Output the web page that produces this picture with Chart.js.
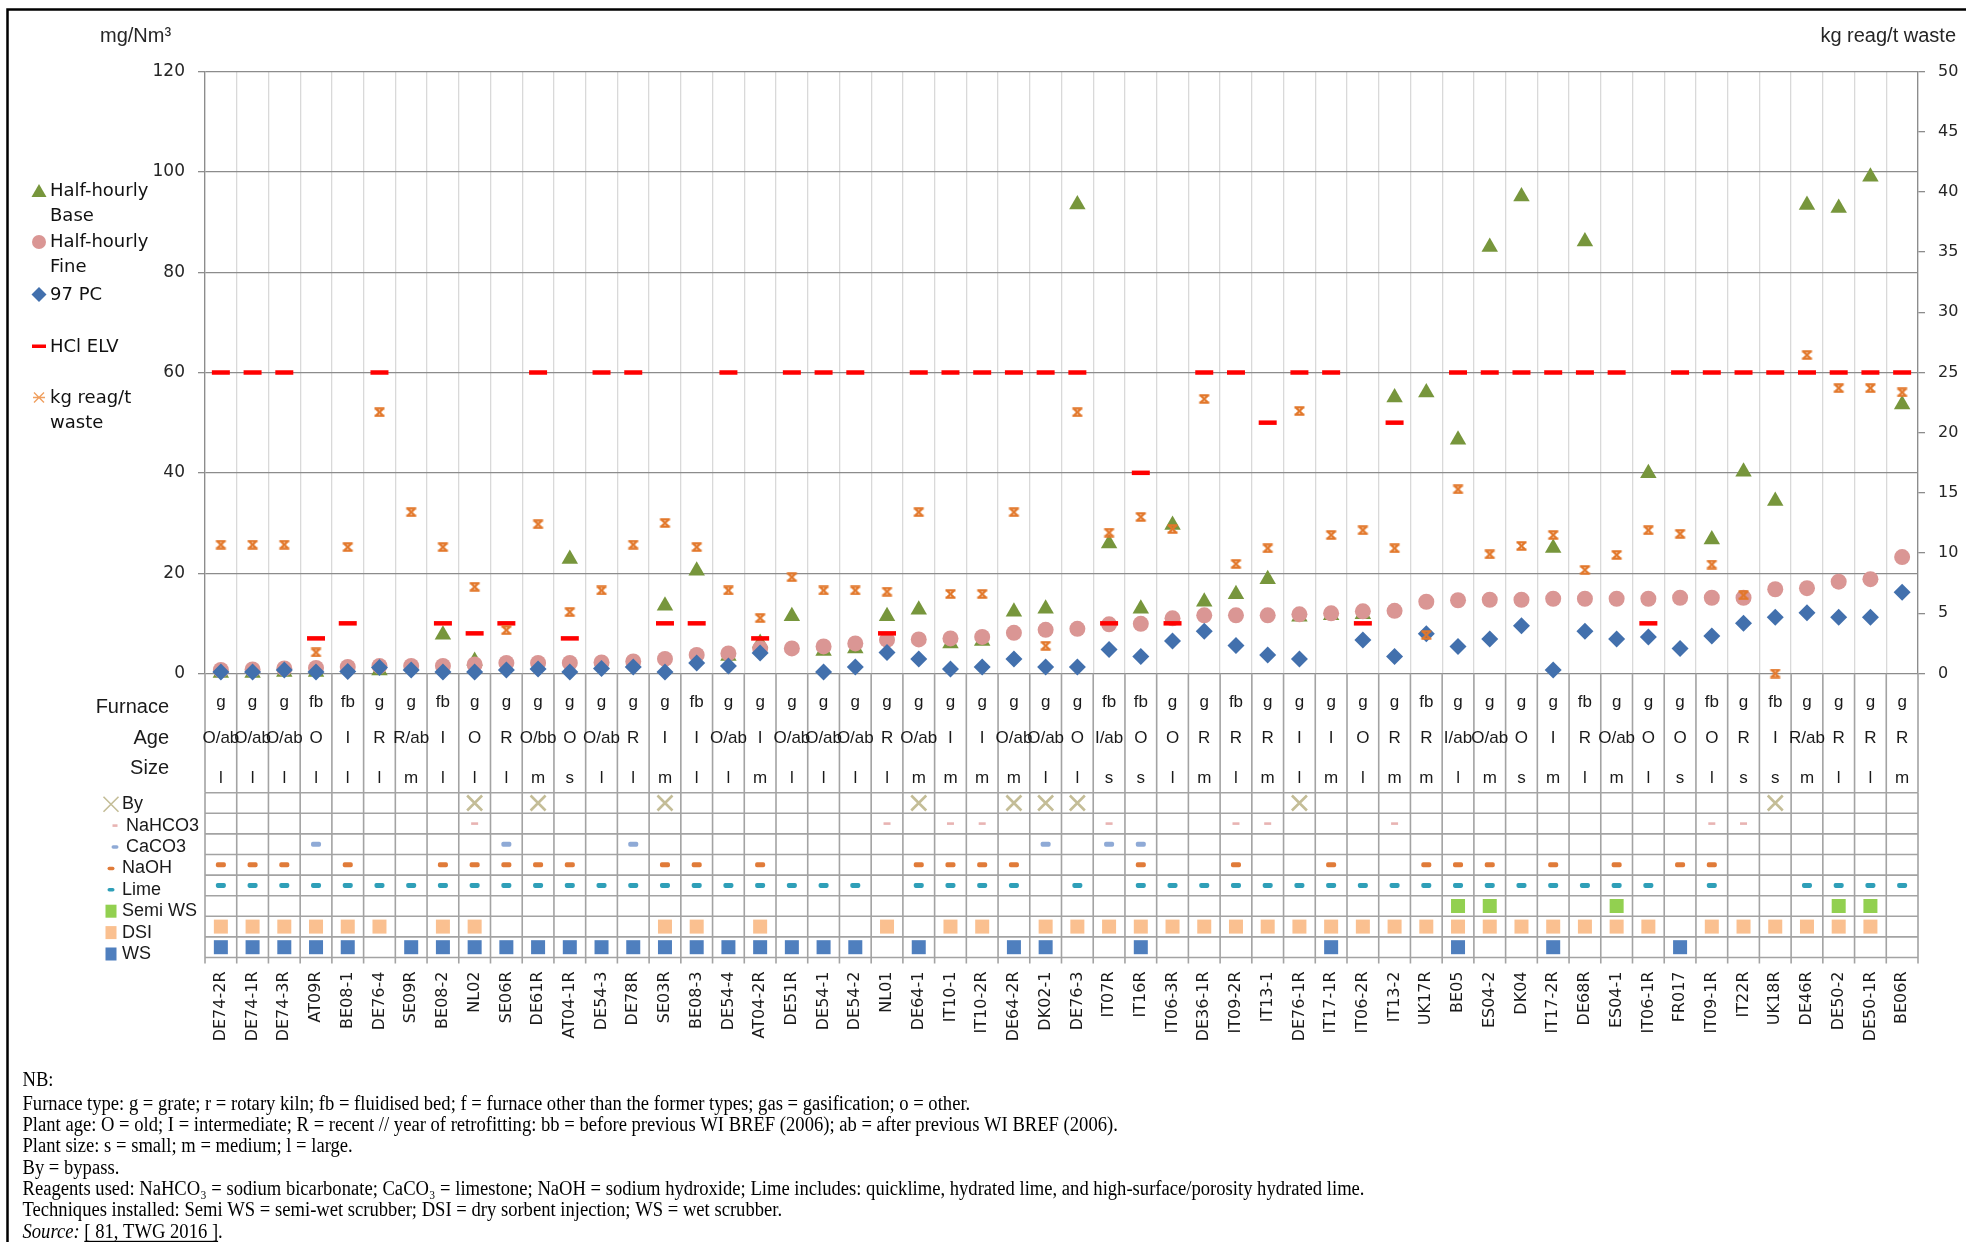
<!DOCTYPE html>
<html>
<head>
<meta charset="utf-8">
<title>HCl emissions per plant</title>
<script src="https://cdn.jsdelivr.net/npm/chart.js@4.4.1/dist/chart.umd.min.js"></script>
<style>
  html, body { margin: 0; padding: 0; background: #fff; }
  #chart { display: block; }
</style>
</head>
<body>
<canvas id="chart" width="1966" height="1242"></canvas>
<script>
// plants, in plot order
const plants = ['DE74-2R', 'DE74-1R', 'DE74-3R', 'AT09R', 'BE08-1', 'DE76-4', 'SE09R', 'BE08-2', 'NL02', 'SE06R',
  'DE61R', 'AT04-1R', 'DE54-3', 'DE78R', 'SE03R', 'BE08-3', 'DE54-4', 'AT04-2R', 'DE51R', 'DE54-1',
  'DE54-2', 'NL01', 'DE64-1', 'IT10-1', 'IT10-2R', 'DE64-2R', 'DK02-1', 'DE76-3', 'IT07R', 'IT16R',
  'IT06-3R', 'DE36-1R', 'IT09-2R', 'IT13-1', 'DE76-1R', 'IT17-1R', 'IT06-2R', 'IT13-2', 'UK17R', 'BE05',
  'ES04-2', 'DK04', 'IT17-2R', 'DE68R', 'ES04-1', 'IT06-1R', 'FR017', 'IT09-1R', 'IT22R', 'UK18R',
  'DE46R', 'DE50-2', 'DE50-1R', 'BE06R'];

// mg/Nm3
const halfHourlyBase = [0.1, 0.1, 0.3, 0.3, null, 0.6, null, 7.7, 2.5, null,
  null, 22.8, null, null, 13.5, 20.5, 3.5, 6.1, 11.4, 4.5,
  5.0, 11.4, 12.7, 6.0, 6.5, 12.3, 12.9, 93.5, 25.9, 12.9,
  29.6, 14.3, 15.8, 18.8, 11.3, 11.6, 11.8, 55.0, 56.0, 46.6,
  85.0, 95.1, 25.0, 86.1, null, 39.9, null, 26.7, 40.2, 34.4,
  93.4, 92.8, 99.0, 53.6];
const halfHourlyFine = [0.7, 0.8, 1.0, 1.1, 1.3, 1.5, 1.5, 1.5, 1.8, 2.1,
  2.1, 2.1, 2.2, 2.4, 2.9, 3.7, 4.0, 5.0, 5.0, 5.4,
  6.0, 6.7, 6.8, 7.0, 7.3, 8.1, 8.7, 8.9, 9.8, 9.9,
  11.0, 11.6, 11.6, 11.6, 11.8, 12.0, 12.4, 12.5, 14.3, 14.6,
  14.7, 14.7, 14.9, 14.9, 14.9, 14.9, 15.1, 15.1, 15.1, 16.8,
  17.0, 18.3, 18.8, 23.2];
const pc97 = [0.3, 0.3, 0.7, 0.3, 0.4, 1.2, 0.7, 0.3, 0.3, 0.7,
  0.9, 0.3, 1.0, 1.3, 0.3, 2.1, 1.5, 4.1, null, 0.3,
  1.3, 4.2, 2.9, 0.9, 1.3, 2.9, 1.3, 1.3, 4.8, 3.4,
  6.5, 8.4, 5.6, 3.7, 2.9, null, 6.7, 3.4, 7.9, 5.4,
  6.9, 9.5, 0.7, 8.4, 6.9, 7.3, 5.0, 7.5, 10.0, 11.2,
  12.1, 11.2, 11.2, 16.2];
const hclElv = [60, 60, 60, 7, 10, 60, null, 10, 8, 10,
  60, 7, 60, 60, 10, 10, 60, 7, 60, 60,
  60, 8, 60, 60, 60, 60, 60, 60, 10, 40,
  10, 60, 60, 50, 60, 60, 10, 50, null, 60,
  60, 60, 60, 60, 60, 10, 60, 60, 60, 60,
  60, 60, 60, 60];
// kg reagent / t waste (right axis)
const reagent = [10.7, 10.7, 10.7, 1.75, 10.5, 21.7, 13.4, 10.5, 7.2, 3.6,
  12.4, 5.1, 6.9, 10.7, 12.5, 10.5, 6.9, 4.6, 8.0, 6.9,
  6.9, 6.8, 13.4, 6.6, 6.6, 13.4, 2.3, 21.7, 11.7, 13.0,
  12.0, 22.8, 9.1, 10.4, 21.8, 11.5, 11.9, 10.4, 3.2, 15.3,
  9.9, 10.6, 11.5, 8.6, 9.85, 11.9, 11.6, 9.05, 6.5, 0,
  26.45, 23.7, 23.7, 23.35];

const leftTicks = { min: 0, max: 120, step: 20 };
const rightTicks = { min: 0, max: 50, step: 5 };

// plant characteristics
const furnace = ['g', 'g', 'g', 'fb', 'fb', 'g', 'g', 'fb', 'g', 'g',
  'g', 'g', 'g', 'g', 'g', 'fb', 'g', 'g', 'g', 'g',
  'g', 'g', 'g', 'g', 'g', 'g', 'g', 'g', 'fb', 'fb',
  'g', 'g', 'fb', 'g', 'g', 'g', 'g', 'g', 'fb', 'g',
  'g', 'g', 'g', 'fb', 'g', 'g', 'g', 'fb', 'g', 'fb',
  'g', 'g', 'g', 'g'];
const age = ['O/ab', 'O/ab', 'O/ab', 'O', 'I', 'R', 'R/ab', 'I', 'O', 'R',
  'O/bb', 'O', 'O/ab', 'R', 'I', 'I', 'O/ab', 'I', 'O/ab', 'O/ab',
  'O/ab', 'R', 'O/ab', 'I', 'I', 'O/ab', 'O/ab', 'O', 'I/ab', 'O',
  'O', 'R', 'R', 'R', 'I', 'I', 'O', 'R', 'R', 'I/ab',
  'O/ab', 'O', 'I', 'R', 'O/ab', 'O', 'O', 'O', 'R', 'I',
  'R/ab', 'R', 'R', 'R'];
const size = ['l', 'l', 'l', 'l', 'l', 'l', 'm', 'l', 'l', 'l',
  'm', 's', 'l', 'l', 'm', 'l', 'l', 'm', 'l', 'l',
  'l', 'l', 'm', 'm', 'm', 'm', 'l', 'l', 's', 's',
  'l', 'm', 'l', 'm', 'l', 'm', 'l', 'm', 'm', 'l',
  'm', 's', 'm', 'l', 'm', 'l', 's', 'l', 's', 's',
  'm', 'l', 'l', 'm'];

// reagents and techniques per plant
const byPass = ['NL02', 'DE61R', 'SE03R', 'DE64-1', 'DE64-2R', 'DK02-1', 'DE76-3', 'DE76-1R', 'UK18R'];
const nahco3 = ['NL02', 'NL01', 'IT10-1', 'IT10-2R', 'IT07R', 'IT09-2R', 'IT13-1', 'IT13-2', 'IT09-1R', 'IT22R'];
const caco3 = ['AT09R', 'SE06R', 'DE78R', 'DK02-1', 'IT07R', 'IT16R'];
const naoh = ['DE74-2R', 'DE74-1R', 'DE74-3R', 'BE08-1', 'BE08-2', 'NL02', 'SE06R', 'DE61R', 'AT04-1R', 'SE03R',
  'BE08-3', 'AT04-2R', 'DE64-1', 'IT10-1', 'IT10-2R', 'DE64-2R', 'IT16R', 'IT09-2R', 'IT17-1R', 'UK17R',
  'BE05', 'ES04-2', 'IT17-2R', 'ES04-1', 'FR017', 'IT09-1R'];
const lime = ['DE74-2R', 'DE74-1R', 'DE74-3R', 'AT09R', 'BE08-1', 'DE76-4', 'SE09R', 'BE08-2', 'NL02', 'SE06R',
  'DE61R', 'AT04-1R', 'DE54-3', 'DE78R', 'SE03R', 'BE08-3', 'DE54-4', 'AT04-2R', 'DE51R', 'DE54-1',
  'DE54-2', 'DE64-1', 'IT10-1', 'IT10-2R', 'DE64-2R', 'DE76-3', 'IT16R', 'IT06-3R', 'DE36-1R', 'IT09-2R',
  'IT13-1', 'DE76-1R', 'IT17-1R', 'IT06-2R', 'IT13-2', 'UK17R', 'BE05', 'ES04-2', 'DK04', 'IT17-2R',
  'DE68R', 'ES04-1', 'IT06-1R', 'IT09-1R', 'DE46R', 'DE50-2', 'DE50-1R', 'BE06R'];
const semiWS = ['BE05', 'ES04-2', 'ES04-1', 'DE50-2', 'DE50-1R'];
const dsi = ['DE74-2R', 'DE74-1R', 'DE74-3R', 'AT09R', 'BE08-1', 'DE76-4', 'BE08-2', 'NL02', 'SE03R', 'BE08-3',
  'AT04-2R', 'NL01', 'IT10-1', 'IT10-2R', 'DK02-1', 'DE76-3', 'IT07R', 'IT16R', 'IT06-3R', 'DE36-1R',
  'IT09-2R', 'IT13-1', 'DE76-1R', 'IT17-1R', 'IT06-2R', 'IT13-2', 'UK17R', 'BE05', 'ES04-2', 'DK04',
  'IT17-2R', 'DE68R', 'ES04-1', 'IT06-1R', 'IT09-1R', 'IT22R', 'UK18R', 'DE46R', 'DE50-2', 'DE50-1R'];
const ws = ['DE74-2R', 'DE74-1R', 'DE74-3R', 'AT09R', 'BE08-1', 'SE09R', 'BE08-2', 'NL02', 'SE06R', 'DE61R',
  'AT04-1R', 'DE54-3', 'DE78R', 'SE03R', 'BE08-3', 'DE54-4', 'AT04-2R', 'DE51R', 'DE54-1', 'DE54-2',
  'DE64-1', 'DE64-2R', 'DK02-1', 'IT16R', 'IT17-1R', 'BE05', 'IT17-2R', 'FR017'];

const notes = [
  'Furnace type: g = grate; r = rotary kiln; fb = fluidised bed; f = furnace other than the former types; gas = gasification; o = other.',
  'Plant age: O = old; I = intermediate; R = recent // year of retrofitting: bb = before previous WI BREF (2006); ab = after previous WI BREF (2006).',
  'Plant size: s = small; m = medium; l = large.',
  'By = bypass.',
  'Reagents used: NaHCO\u2083 = sodium bicarbonate; CaCO\u2083 = limestone; NaOH = sodium hydroxide; Lime includes: quicklime, hydrated lime, and high-surface/porosity hydrated lime.',
  'Techniques installed: Semi WS = semi-wet scrubber; DSI = dry sorbent injection; WS = wet scrubber.'
];

// ---- layout -----------------------------------------------------------
const W = 1966, H = 1242;
const PLOT_TOP = 71.5, PLOT_BOTTOM = 673.5, PLOT_LEFT = 205, PLOT_RIGHT = 1918;
const TABLE_TOP = 792.7, ROW_H = 20.6;
const SANS = "'DejaVu Sans', sans-serif";
const NARROW = "'Liberation Sans', Arial, sans-serif";
const SERIF = "'Liberation Serif', 'Times New Roman', serif";

const COL = {
  base: '#77963c', fine: '#da9694', pc: '#4270ad', elv: '#ff0000', reag: '#e2772a'
};

const techRows = [
  { name: 'By', plants: byPass, mark: 'cross', color: '#c4bd97' },
  { name: 'NaHCO3', plants: nahco3, mark: 'thin', color: '#e8b4b3' },
  { name: 'CaCO3', plants: caco3, mark: 'pill', color: '#8faad6' },
  { name: 'NaOH', plants: naoh, mark: 'pill', color: '#e07b39' },
  { name: 'Lime', plants: lime, mark: 'pill', color: '#2f9fb8' },
  { name: 'Semi WS', plants: semiWS, mark: 'square', color: '#92d050' },
  { name: 'DSI', plants: dsi, mark: 'square', color: '#fac090' },
  { name: 'WS', plants: ws, mark: 'square', color: '#4f7fbe' }
];

// hourglass-like star used for the reagent series
function reagentMark() {
  const c = document.createElement('canvas');
  c.width = 13; c.height = 10;
  const g = c.getContext('2d');
  g.strokeStyle = COL.reag;
  g.lineWidth = 2.2;
  g.beginPath();
  g.moveTo(1.5, 1.3); g.lineTo(11.5, 1.3);
  g.moveTo(1.5, 8.7); g.lineTo(11.5, 8.7);
  g.moveTo(2.5, 1.3); g.lineTo(10.5, 8.7);
  g.moveTo(10.5, 1.3); g.lineTo(2.5, 8.7);
  g.stroke();
  return c;
}

function drawMark(ctx, mark, color, x, y, small) {
  ctx.save();
  ctx.fillStyle = color;
  ctx.strokeStyle = color;
  if (mark === 'cross') {
    const s = 7.5;
    ctx.lineWidth = small ? 1.6 : 2.6;
    ctx.beginPath();
    ctx.moveTo(x - s, y - s); ctx.lineTo(x + s, y + s);
    ctx.moveTo(x + s, y - s); ctx.lineTo(x - s, y + s);
    ctx.stroke();
  } else if (mark === 'thin') {
    const w = small ? 5 : 7;
    ctx.fillRect(x - w / 2, y - 1.3, w, 2.6);
  } else if (mark === 'pill') {
    const w = small ? 7 : 10, h = small ? 3.5 : 5;
    ctx.beginPath();
    ctx.roundRect(x - w / 2, y - h / 2, w, h, 1.8);
    ctx.fill();
  } else {
    const w = small ? 11 : 14, h = small ? 13 : 14;
    ctx.fillRect(x - w / 2, y - h / 2, w, h);
  }
  ctx.restore();
}

const sheetPlugin = {
  id: 'sheet',
  beforeDraw(chart) {
    const ctx = chart.ctx;
    ctx.save();
    ctx.fillStyle = '#fff';
    ctx.fillRect(0, 0, chart.width, chart.height);
    ctx.restore();
  },
  afterDraw(chart) {
    const ctx = chart.ctx;
    const area = chart.chartArea;
    const x = chart.scales.x;
    const colW = x.getPixelForValue(1) - x.getPixelForValue(0);
    const edges = [];
    for (let i = 0; i <= plants.length; i++) edges.push(x.getPixelForValue(i) - colW / 2);

    ctx.save();

    // outer frame
    ctx.strokeStyle = '#000';
    ctx.lineWidth = 2.5;
    ctx.beginPath();
    ctx.moveTo(7.5, H); ctx.lineTo(7.5, 9.5); ctx.lineTo(W, 9.5);
    ctx.stroke();

    // axis units
    ctx.fillStyle = '#262626';
    ctx.font = '20px ' + NARROW;
    ctx.textBaseline = 'middle';
    ctx.textAlign = 'left';
    ctx.fillText('mg/Nm\u00b3', 100, 36);
    ctx.textAlign = 'right';
    ctx.fillText('kg reag/t waste', 1956, 36);

    // series legend on the left
    ctx.textAlign = 'left';
    ctx.font = '18px ' + SANS;
    const lx = 39, tx = 50;
    ctx.fillStyle = COL.base;
    ctx.beginPath();
    ctx.moveTo(lx, 184); ctx.lineTo(lx + 7.5, 197); ctx.lineTo(lx - 7.5, 197); ctx.closePath();
    ctx.fill();
    ctx.fillStyle = COL.fine;
    ctx.beginPath(); ctx.arc(lx, 242, 7, 0, Math.PI * 2); ctx.fill();
    ctx.fillStyle = COL.pc;
    ctx.beginPath();
    ctx.moveTo(lx, 287); ctx.lineTo(lx + 7.5, 294.5); ctx.lineTo(lx, 302); ctx.lineTo(lx - 7.5, 294.5); ctx.closePath();
    ctx.fill();
    ctx.fillStyle = COL.elv;
    ctx.fillRect(lx - 7, 344.5, 14, 3.5);
    ctx.strokeStyle = '#f0a060';
    ctx.lineWidth = 1.4;
    ctx.beginPath();
    ctx.moveTo(lx - 5, 392.5); ctx.lineTo(lx + 5, 402.5);
    ctx.moveTo(lx + 5, 392.5); ctx.lineTo(lx - 5, 402.5);
    ctx.moveTo(lx - 6, 397.5); ctx.lineTo(lx + 6, 397.5);
    ctx.stroke();
    ctx.fillStyle = '#111';
    [['Half-hourly', 191], ['Base', 216], ['Half-hourly', 242], ['Fine', 267], ['97 PC', 295],
     ['HCl ELV', 347], ['kg reag/t', 398], ['waste', 423]].forEach(([t, y]) => ctx.fillText(t, tx, y));

    // plant characteristics block
    ctx.strokeStyle = '#a3a3a3';
    ctx.lineWidth = 1.6;
    ctx.beginPath();
    edges.forEach(e => { ctx.moveTo(e, area.bottom); ctx.lineTo(e, TABLE_TOP); });
    ctx.stroke();

    ctx.fillStyle = '#1a1a1a';
    ctx.font = '20px ' + NARROW;
    ctx.textAlign = 'right';
    ctx.fillText('Furnace', 169, 707);
    ctx.fillText('Age', 169, 738);
    ctx.fillText('Size', 169, 768);
    ctx.font = '17px ' + NARROW;
    ctx.textAlign = 'center';
    plants.forEach((p, i) => {
      const cx = x.getPixelForValue(i);
      ctx.fillText(furnace[i], cx, 702);
      ctx.fillText(age[i], cx, 738);
      ctx.fillText(size[i], cx, 778);
    });

    // reagents / techniques grid
    const gridBottom = TABLE_TOP + techRows.length * ROW_H;
    ctx.beginPath();
    for (let r = 0; r <= techRows.length; r++) {
      const y = TABLE_TOP + r * ROW_H;
      ctx.moveTo(area.left, y); ctx.lineTo(area.right, y);
    }
    edges.forEach(e => { ctx.moveTo(e, TABLE_TOP); ctx.lineTo(e, gridBottom + 6); });
    ctx.stroke();

    ctx.font = '18px ' + NARROW;
    ctx.textAlign = 'left';
    techRows.forEach((row, r) => {
      const cy = TABLE_TOP + (r + 0.5) * ROW_H;
      const ly = TABLE_TOP + 11.5 + r * 21.4;
      const indent = (row.mark === 'thin' || row.name === 'CaCO3') ? 4 : 0;
      drawMark(ctx, row.mark, row.color, 111 + indent, ly, true);
      ctx.fillStyle = '#1a1a1a';
      ctx.fillText(row.name, 122 + indent, ly);
      row.plants.forEach(p => {
        const i = plants.indexOf(p);
        if (i >= 0) drawMark(ctx, row.mark, row.color, x.getPixelForValue(i), cy, false);
      });
    });

    // footnotes
    ctx.fillStyle = '#000';
    ctx.textAlign = 'left';
    const squeeze = 0.93;
    const line = (parts, y) => {
      ctx.save();
      ctx.translate(22.5, y);
      ctx.scale(squeeze, 1);
      let cx = 0;
      parts.forEach(pt => {
        ctx.font = (pt.italic ? 'italic ' : '') + '20px ' + SERIF;
        ctx.fillText(pt.t, cx, 0);
        const w = ctx.measureText(pt.t).width;
        if (pt.underline) ctx.fillRect(cx, 8.5, w, 1.3);
        cx += w;
      });
      ctx.restore();
    };
    line([{ t: 'NB:' }], 1081);
    notes.forEach((t, k) => line([{ t }], 1104.5 + k * 21.3));
    line([{ t: 'Source:', italic: true }, { t: ' ' }, { t: '[ 81, TWG 2016 ]', underline: true }, { t: '.' }],
      1104.5 + notes.length * 21.3);

    ctx.restore();
  }
};

Chart.defaults.font.family = SANS;

new Chart(document.getElementById('chart'), {
  type: 'line',
  data: {
    labels: plants,
    datasets: [
      { label: 'kg reag/t waste', data: reagent, yAxisID: 'y2', order: 1,
        pointStyle: reagentMark(), pointRadius: 6 },
      { label: 'HCl ELV', data: hclElv, yAxisID: 'y', order: 2,
        pointStyle: 'line', pointRadius: 9, pointBorderWidth: 4.5,
        pointBorderColor: COL.elv, pointBackgroundColor: COL.elv },
      { label: '97 PC', data: pc97, yAxisID: 'y', order: 3,
        pointStyle: 'rectRot', pointRadius: 8.5, pointBorderWidth: 0,
        pointBackgroundColor: COL.pc, pointBorderColor: COL.pc },
      { label: 'Half-hourly Fine', data: halfHourlyFine, yAxisID: 'y', order: 4,
        pointStyle: 'circle', pointRadius: 8, pointBorderWidth: 0,
        pointBackgroundColor: COL.fine, pointBorderColor: COL.fine },
      { label: 'Half-hourly Base', data: halfHourlyBase, yAxisID: 'y', order: 5,
        pointStyle: 'triangle', pointRadius: 9.5, pointBorderWidth: 0,
        pointBackgroundColor: COL.base, pointBorderColor: COL.base }
    ]
  },
  options: {
    responsive: false,
    animation: false,
    devicePixelRatio: 1,
    events: [],
    layout: { padding: { top: PLOT_TOP, left: 0, right: 0, bottom: 0 }, autoPadding: false },
    datasets: { line: { showLine: false, clip: false } },
    plugins: { legend: { display: false }, tooltip: { enabled: false } },
    scales: {
      x: {
        type: 'category',
        offset: true,
        grid: { offset: true, color: '#d9d9d9', lineWidth: 1.3, drawTicks: false },
        border: { display: false },
        ticks: {
          autoSkip: false, minRotation: 90, maxRotation: 90, padding: 298,
          color: '#1a1a1a', font: { family: SANS, size: 16 }
        },
        // the tall label padding must not eat into the side margins
        afterFit: s => { s.height = H - PLOT_BOTTOM; s.paddingLeft = 0; s.paddingRight = 0; }
      },
      y: {
        position: 'left',
        min: leftTicks.min, max: leftTicks.max,
        ticks: { stepSize: leftTicks.step, padding: 13, color: '#262626', font: { size: 17 } },
        grid: { color: '#8c8c8c', lineWidth: 1.3, tickLength: 7 },
        border: { color: '#8c8c8c', width: 1.3 },
        afterFit: s => { s.width = PLOT_LEFT; }
      },
      y2: {
        position: 'right',
        min: rightTicks.min, max: rightTicks.max,
        ticks: { stepSize: rightTicks.step, padding: 13, color: '#262626', font: { size: 16 } },
        grid: { drawOnChartArea: false, color: '#8c8c8c', lineWidth: 1.3, tickLength: 7 },
        border: { color: '#8c8c8c', width: 1.3 },
        afterFit: s => { s.width = W - PLOT_RIGHT; }
      }
    }
  },
  plugins: [sheetPlugin]
});
</script>
</body>
</html>
